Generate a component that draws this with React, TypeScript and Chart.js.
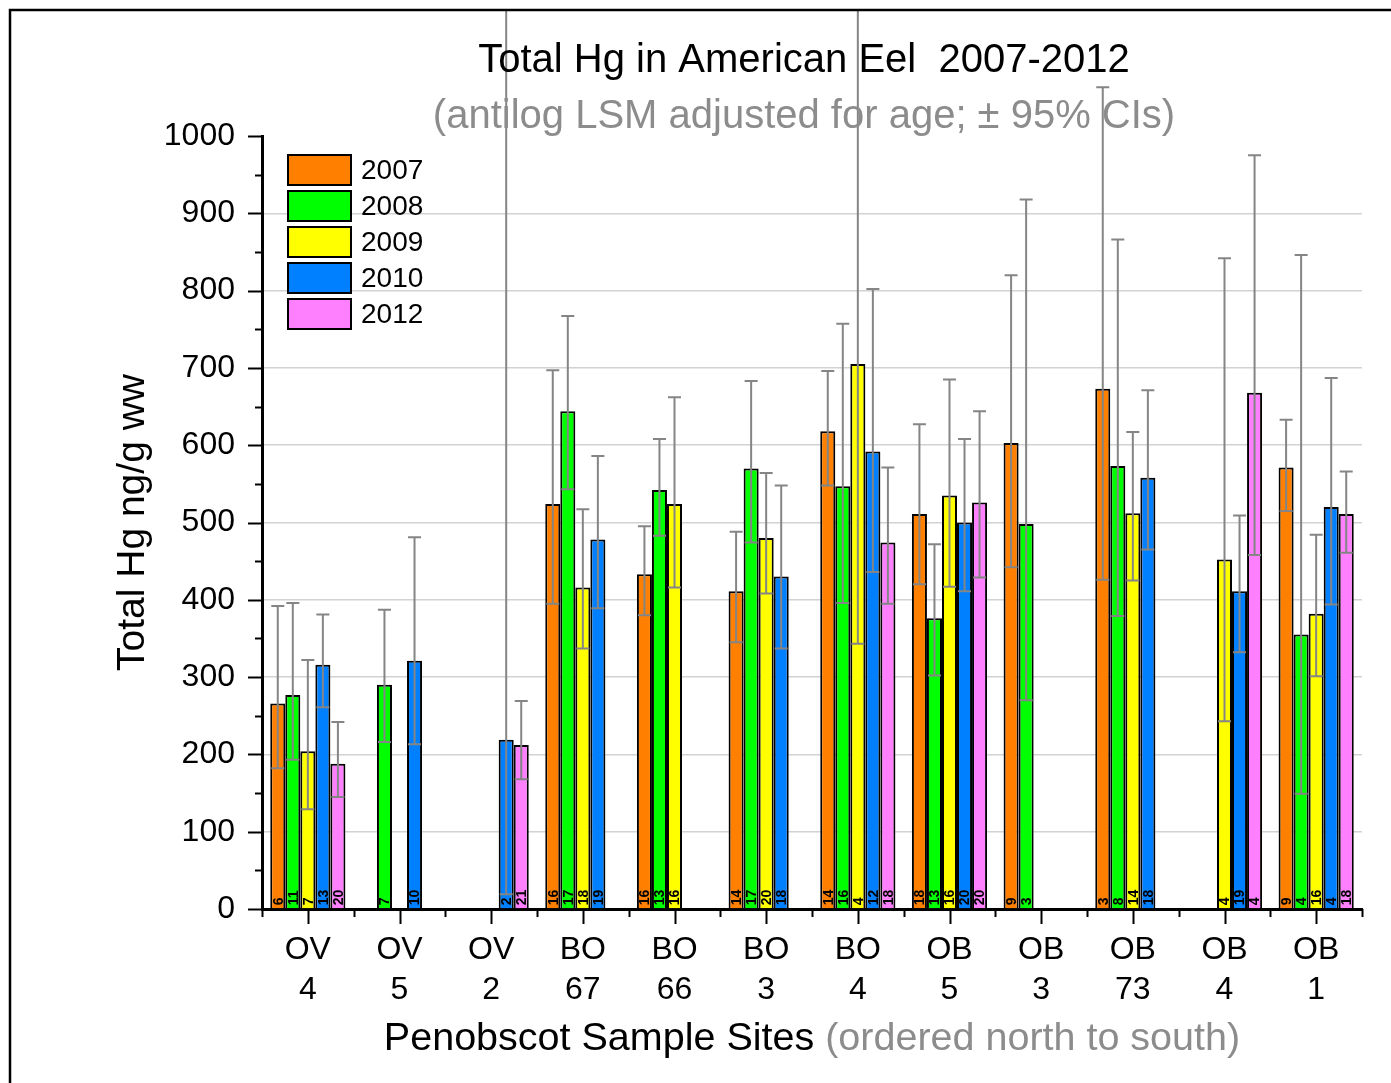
import React, { useEffect, useRef } from 'react';
import { Chart, registerables } from 'chart.js';

Chart.register(...registerables);

const FONT = 'Arial, "Liberation Sans", sans-serif';

// Sample sites, ordered north to south (two-line tick labels)
const siteLabels = [
  ['OV', '4'], ['OV', '5'], ['OV', '2'], ['BO', '67'], ['BO', '66'], ['BO', '3'],
  ['BO', '4'], ['OB', '5'], ['OB', '3'], ['OB', '73'], ['OB', '4'], ['OB', '1'],
];

const years = ['2007', '2008', '2009', '2010', '2012'];
const yearColors = ['#FF8000', '#00FF00', '#FFFF00', '#0080FF', '#FF80FF'];

// antilog LSM total Hg (ng/g ww) per year and site
const hg2007 = [266, null, null, 524, 433, 411, 618, 511, 603, 673, null, 571];
const hg2008 = [277, 290, null, 644, 542, 570, 547, 376, 498, 573, null, 355];
const hg2009 = [204, null, null, 416, 524, 480, 705, 535, null, 512, 452, 382];
const hg2010 = [316, 321, 219, 478, null, 430, 592, 500, null, 558, 411, 520];
const hg2012 = [188, null, 212, null, null, null, 474, 526, null, null, 668, 511];

// lower / upper 95% confidence limits
const lo2007 = [182, null, null, 395, 380, 345, 548, 420, 442, 426, null, 515];
const hi2007 = [392, null, null, 697, 495, 488, 696, 627, 820, 1063, null, 633];
const lo2008 = [193, 216, null, 543, 483, 474, 396, 302, 270, 379, null, 149];
const hi2008 = [396, 387, null, 767, 608, 683, 757, 472, 918, 866, null, 846];
const lo2009 = [129, null, null, 337, 416, 408, 343, 417, null, 425, 243, 301];
const hi2009 = [322, null, null, 517, 662, 564, 1250, 685, null, 617, 842, 484];
const lo2010 = [261, 213, 19, 389, null, 337, 436, 411, null, 465, 332, 394];
const hi2010 = [381, 481, 1250, 586, null, 548, 802, 608, null, 671, 509, 687];
const lo2012 = [145, null, 168, null, null, null, 395, 429, null, null, 458, 461];
const hi2012 = [242, null, 269, null, null, null, 571, 644, null, null, 975, 566];

// sample sizes (n) written at the foot of each bar
const n2007 = [6, null, null, 16, 16, 14, 14, 18, 9, 3, null, 9];
const n2008 = [11, 7, null, 17, 13, 17, 16, 13, 3, 8, null, 4];
const n2009 = [7, null, null, 18, 16, 20, 4, 16, null, 14, 4, 16];
const n2010 = [13, 10, 2, 19, null, 18, 12, 20, null, 18, 19, 4];
const n2012 = [20, null, 21, null, null, null, 18, 20, null, null, 4, 18];

const yTickValues = [0, 100, 200, 300, 400, 500, 600, 700, 800, 900, 1000];

const W = 1391;
const H = 1083;

export default function App() {
  const canvasRef = useRef<HTMLCanvasElement>(null);

  useEffect(() => {
    const canvas = canvasRef.current;
    if (!canvas) return;

    const series = [hg2007, hg2008, hg2009, hg2010, hg2012];
    const lows = [lo2007, lo2008, lo2009, lo2010, lo2012];
    const highs = [hi2007, hi2008, hi2009, hi2010, hi2012];
    const counts = [n2007, n2008, n2009, n2010, n2012];

    const decorations = {
      id: 'decorations',
      afterDatasetsDraw(chart: any) {
        const { ctx } = chart;
        const yScale = chart.scales.y;
        // confidence interval whiskers
        ctx.save();
        ctx.beginPath();
        ctx.rect(0, 11, W, H);
        ctx.clip();
        ctx.strokeStyle = '#858585';
        ctx.lineWidth = 2;
        series.forEach((vals, i) => {
          const meta = chart.getDatasetMeta(i);
          vals.forEach((v, j) => {
            if (v == null) return;
            const el = meta.data[j];
            const lo = lows[i][j];
            const hi = highs[i][j];
            if (lo == null || hi == null) return;
            const x = el.x;
            const yLo = yScale.getPixelForValue(lo);
            const yHi = yScale.getPixelForValue(hi);
            ctx.beginPath();
            ctx.moveTo(x, yLo);
            ctx.lineTo(x, yHi);
            ctx.moveTo(x - 6.5, yLo);
            ctx.lineTo(x + 6.5, yLo);
            ctx.moveTo(x - 6.5, yHi);
            ctx.lineTo(x + 6.5, yHi);
            ctx.stroke();
          });
        });
        ctx.restore();

        // sample sizes, rotated, at the bar bases
        ctx.save();
        ctx.fillStyle = '#000';
        ctx.font = `bold 14px ${FONT}`;
        ctx.textAlign = 'left';
        ctx.textBaseline = 'middle';
        series.forEach((vals, i) => {
          const meta = chart.getDatasetMeta(i);
          vals.forEach((v, j) => {
            const n = counts[i][j];
            if (v == null || n == null) return;
            const el = meta.data[j];
            ctx.save();
            ctx.translate(el.x, el.base - 3);
            ctx.rotate(-Math.PI / 2);
            ctx.fillText(String(n), 0, 1);
            ctx.restore();
          });
        });
        ctx.restore();
      },
      afterDraw(chart: any) {
        const { ctx, chartArea } = chart;
        const xScale = chart.scales.x;
        const yScale = chart.scales.y;
        ctx.save();
        ctx.strokeStyle = '#000';
        ctx.lineWidth = 2;

        // y-axis major and minor tick marks
        yTickValues.forEach((v) => {
          const py = Math.round(yScale.getPixelForValue(v)) + 0.5;
          ctx.beginPath();
          ctx.moveTo(chartArea.left, py);
          ctx.lineTo(chartArea.left - 14, py);
          ctx.stroke();
          if (v < 1000) {
            const pm = Math.round(yScale.getPixelForValue(v + 50)) + 0.5;
            ctx.beginPath();
            ctx.moveTo(chartArea.left, pm);
            ctx.lineTo(chartArea.left - 7, pm);
            ctx.stroke();
          }
        });

        // x-axis ticks: long at site centres, short at boundaries
        const nCat = siteLabels.length;
        const step = (chartArea.right - chartArea.left) / nCat;
        for (let k = 0; k <= nCat; k++) {
          const bx = Math.round(chartArea.left + k * step) + 0.5;
          ctx.beginPath();
          ctx.moveTo(bx, chartArea.bottom);
          ctx.lineTo(bx, chartArea.bottom + 8);
          ctx.stroke();
        }
        for (let k = 0; k < nCat; k++) {
          const cx = Math.round(xScale.getPixelForValue(k)) + 0.5;
          ctx.beginPath();
          ctx.moveTo(cx, chartArea.bottom);
          ctx.lineTo(cx, chartArea.bottom + 15);
          ctx.stroke();
        }

        // legend
        ctx.textAlign = 'left';
        ctx.textBaseline = 'middle';
        ctx.font = `28px ${FONT}`;
        years.forEach((yr, i) => {
          const top = 155 + i * 36;
          ctx.fillStyle = yearColors[i];
          ctx.fillRect(288, top, 63, 30);
          ctx.strokeStyle = '#000';
          ctx.lineWidth = 2;
          ctx.strokeRect(288, top, 63, 30);
          ctx.fillStyle = '#000';
          ctx.fillText(yr, 361, top + 16);
        });

        // chart title and subtitle
        ctx.textAlign = 'center';
        ctx.font = `40px ${FONT}`;
        ctx.fillStyle = '#000';
        ctx.fillText('Total Hg in American Eel  2007-2012', 804, 61);
        ctx.fillStyle = '#8c8c8c';
        ctx.fillText('(antilog LSM adjusted for age; \u00B1 95% CIs)', 804, 117);

        // x-axis title in two tones
        ctx.font = `39.5px ${FONT}`;
        const partA = 'Penobscot Sample Sites';
        const partB = ' (ordered north to south)';
        const wA = ctx.measureText(partA).width;
        const wB = ctx.measureText(partB).width;
        const startX = (chartArea.left + chartArea.right) / 2 - (wA + wB) / 2;
        ctx.textAlign = 'left';
        ctx.fillStyle = '#000';
        ctx.fillText(partA, startX, 1039);
        ctx.fillStyle = '#8c8c8c';
        ctx.fillText(partB, startX + wA, 1039);

        // outer frame
        ctx.strokeStyle = '#000';
        ctx.lineWidth = 2.5;
        ctx.beginPath();
        ctx.moveTo(10, H + 5);
        ctx.lineTo(10, 10);
        ctx.lineTo(W + 5, 10);
        ctx.stroke();
        ctx.restore();
      },
    };

    const chart = new Chart(canvas, {
      type: 'bar',
      data: {
        labels: siteLabels,
        datasets: years.map((yr, i) => ({
          label: yr,
          data: series[i],
          backgroundColor: yearColors[i],
          borderColor: '#000',
          borderWidth: 2,
          categoryPercentage: 0.82,
          barPercentage: 1,
        })),
      },
      options: {
        responsive: false,
        animation: false,
        devicePixelRatio: 1,
        layout: { padding: { top: 136, right: 29, left: 0, bottom: 0 } },
        plugins: {
          legend: { display: false },
          title: { display: false },
          tooltip: { enabled: false },
        },
        scales: {
          x: {
            grid: { display: false, drawTicks: false },
            border: { color: '#000', width: 3 },
            ticks: {
              color: '#000',
              font: { family: FONT, size: 32, lineHeight: 1.25 },
              padding: 21,
              maxRotation: 0,
              autoSkip: false,
            },
            afterFit: (s: any) => {
              s.height = 174;
            },
          },
          y: {
            min: 0,
            max: 1000,
            ticks: {
              stepSize: 100,
              color: '#000',
              font: { family: FONT, size: 32 },
              padding: 27,
              callback: (v: any) => String(v),
            },
            grid: {
              color: (c: any) =>
                c.tick && (c.tick.value === 0 || c.tick.value === 1000) ? 'rgba(0,0,0,0)' : '#d2d2d2',
              lineWidth: 1.5,
              drawTicks: false,
            },
            border: { color: '#000', width: 3 },
            title: {
              display: true,
              text: 'Total Hg ng/g ww',
              color: '#000',
              font: { family: FONT, size: 39 },
              padding: { top: 110, bottom: 0 },
            },
            afterFit: (s: any) => {
              s.width = 262;
            },
          },
        },
      },
      plugins: [decorations],
    } as any);

    return () => chart.destroy();
  }, []);

  return (
    <div style={{ position: 'absolute', left: 0, top: 0, width: W, height: H, background: '#fff' }}>
      <canvas ref={canvasRef} width={W} height={H} style={{ display: 'block' }} />
    </div>
  );
}
